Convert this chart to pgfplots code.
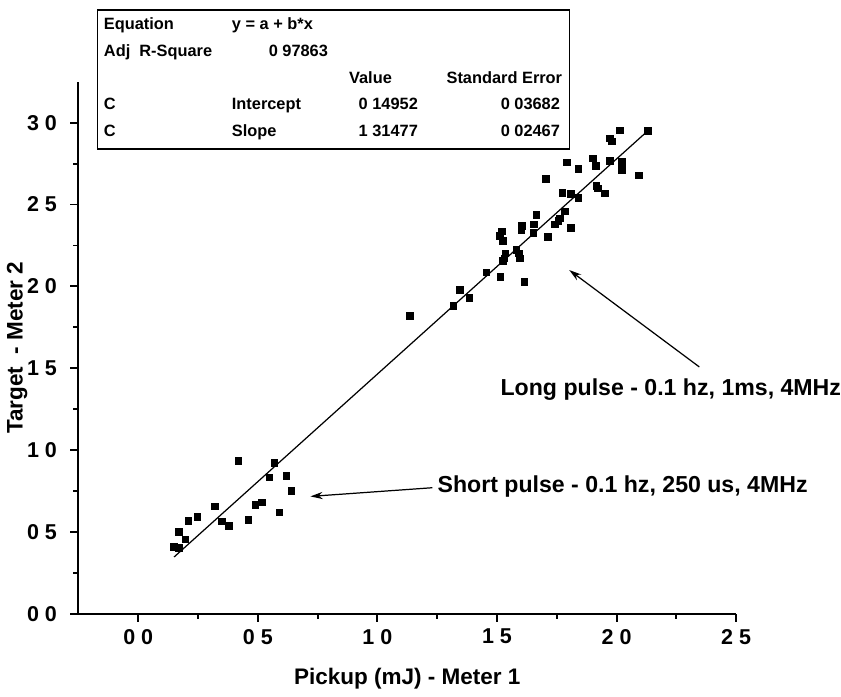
\documentclass[border=0pt]{standalone}
\usepackage{fontspec}
\setmainfont{Liberation Sans}
\usepackage{pgfplots}
\pgfplotsset{compat=1.18}
\usetikzlibrary{arrows.meta}

\pgfplotstableread{
x y
0.150 0.407
0.170 0.403
0.170 0.501
0.197 0.455
0.209 0.568
0.247 0.591
0.320 0.656
0.349 0.564
0.380 0.537
0.419 0.935
0.460 0.574
0.489 0.666
0.517 0.681
0.549 0.833
0.570 0.921
0.590 0.620
0.619 0.843
0.641 0.752
1.135 1.820
1.318 1.882
1.346 1.978
1.385 1.931
1.456 2.085
1.514 2.059
1.524 2.155
1.531 2.170
1.536 2.202
1.521 2.335
1.513 2.309
1.524 2.277
1.581 2.224
1.591 2.202
1.595 2.170
1.614 2.029
1.605 2.369
1.602 2.341
1.652 2.326
1.654 2.378
1.665 2.437
1.714 2.303
1.705 2.657
1.742 2.378
1.756 2.399
1.762 2.416
1.783 2.459
1.809 2.358
1.773 2.570
1.810 2.566
1.841 2.540
1.792 2.758
1.841 2.717
1.900 2.783
1.914 2.736
1.916 2.613
1.923 2.598
1.952 2.568
1.973 2.768
1.973 2.903
1.980 2.886
2.013 2.954
2.023 2.762
2.023 2.711
2.094 2.677
2.130 2.950
}\meters

\begin{document}
\begin{tikzpicture}
\begin{axis}[
    scale only axis,
    width=321.5pt, height=260pt,
    xmin=-0.25, xmax=2.5,
    ymin=0, ymax=3.25,
    axis lines=left,
    axis line style={-, line width=1pt},
    tick align=outside,
    major tick length=4pt,
    minor tick length=2.5pt,
    every tick/.style={black, line width=0.9pt},
    xtick={0,0.5,1,1.5,2,2.5},
    ytick={0,0.5,1,1.5,2,2.5,3},
    xticklabels={0 0,0 5,1 0,1 5,2 0,2 5},
    yticklabels={0 0,0 5,1 0,1 5,2 0,2 5,3 0},
    minor x tick num=1,
    minor y tick num=1,
    tick label style={font=\bfseries\fontsize{10.5}{12}\selectfont},
    yticklabel style={xshift=-3pt},
    xlabel={Pickup (mJ) - Meter 1},
    ylabel={Target\ \ - Meter 2},
    label style={font=\bfseries\fontsize{11}{13}\selectfont},
    xlabel style={yshift=-5pt},
    ylabel style={yshift=-7pt},
    clip=false,
]
\addplot[only marks, mark=square*, mark size=1.6pt, black] table {\meters};
\addplot[black, line width=0.6pt] coordinates {(0.15,0.347) (2.14,2.963)};

% white margin above the box
\path (axis cs:0,3.75);

% fit result box
\draw[line width=0.8pt] (axis cs:-0.171,2.841) rectangle (axis cs:1.803,3.69);
\begin{scope}[every node/.style={font=\bfseries\fontsize{8}{9}\selectfont, inner sep=0pt}]
\node[anchor=mid west] at (axis cs:-0.145,3.60) {Equation};
\node[anchor=mid west] at (axis cs:0.39,3.60) {y = a + b*x};
\node[anchor=mid west] at (axis cs:-0.145,3.437) {Adj\ \ R-Square};
\node[anchor=mid east] at (axis cs:0.795,3.437) {0 97863};
\node[anchor=mid west] at (axis cs:0.88,3.274) {Value};
\node[anchor=mid east] at (axis cs:1.774,3.274) {Standard Error};
\node[anchor=mid west] at (axis cs:-0.145,3.111) {C};
\node[anchor=mid west] at (axis cs:0.39,3.111) {Intercept};
\node[anchor=mid east] at (axis cs:1.171,3.111) {0 14952};
\node[anchor=mid east] at (axis cs:1.765,3.111) {0 03682};
\node[anchor=mid west] at (axis cs:-0.145,2.948) {C};
\node[anchor=mid west] at (axis cs:0.39,2.948) {Slope};
\node[anchor=mid east] at (axis cs:1.171,2.948) {1 31477};
\node[anchor=mid east] at (axis cs:1.765,2.948) {0 02467};
\end{scope}

% annotations
\draw[line width=0.6pt, -{Stealth[length=6pt, width=3.5pt]}] (axis cs:2.346,1.508) -- (axis cs:1.802,2.10);
\node[anchor=mid east, font=\bfseries\fontsize{11.3}{13}\selectfont, inner sep=0pt] at (axis cs:2.94,1.367) {Long pulse - 0.1 hz, 1ms, 4MHz};
\draw[line width=0.6pt, -{Stealth[length=6pt, width=3.5pt]}] (axis cs:1.23,0.77) -- (axis cs:0.72,0.717);
\node[anchor=mid west, font=\bfseries\fontsize{11.3}{13}\selectfont, inner sep=0pt] at (axis cs:1.25,0.775) {Short pulse - 0.1 hz, 250 us, 4MHz};
\end{axis}
\end{tikzpicture}
\end{document}
